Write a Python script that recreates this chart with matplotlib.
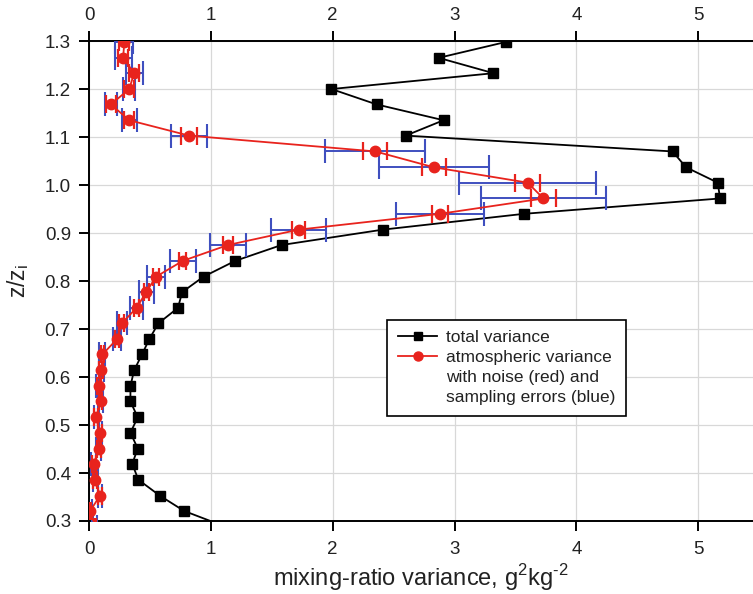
import numpy as np
import matplotlib.pyplot as plt
from matplotlib.lines import Line2D

plt.rcParams['font.family'] = ['Liberation Sans', 'DejaVu Sans']

# normalised height of each level
z = [1.298, 1.265, 1.233, 1.200, 1.168, 1.135, 1.103, 1.070, 1.037, 1.005,
     0.972, 0.940, 0.907, 0.875, 0.842, 0.809, 0.777, 0.744, 0.712, 0.679,
     0.647, 0.614, 0.581, 0.549, 0.516, 0.484, 0.451, 0.419, 0.386, 0.353,
     0.321, 0.288]

total_var = [3.42, 2.87, 3.32, 1.99, 2.36, 2.91, 2.60, 4.79, 4.90, 5.16,
             5.18, 3.57, 2.41, 1.58, 1.20, 0.94, 0.765, 0.73, 0.57, 0.495,
             0.435, 0.37, 0.34, 0.34, 0.40, 0.34, 0.40, 0.355, 0.405, 0.58,
             0.78, 1.12]

atm_var = [0.29, 0.28, 0.37, 0.33, 0.18, 0.33, 0.82, 2.35, 2.83, 3.60,
           3.73, 2.88, 1.72, 1.14, 0.77, 0.55, 0.47, 0.39, 0.27, 0.23,
           0.11, 0.10, 0.08, 0.095, 0.06, 0.09, 0.08, 0.04, 0.05, 0.09,
           0.01, 0.05]

# half-widths of the error bars
sampling_err = [0.075, 0.07, 0.07, 0.05, 0.05, 0.06, 0.15, 0.41, 0.45, 0.565,
                0.51, 0.36, 0.225, 0.15, 0.105, 0.075, 0.06, 0.05, 0.04, 0.035,
                0.025, 0.02, 0.02, 0.02, 0.02, 0.02, 0.02, 0.02, 0.02, 0.02,
                0.015, 0.015]
noise_err = [0.04, 0.04, 0.04, 0.04, 0.04, 0.04, 0.065, 0.10, 0.10, 0.10,
             0.10, 0.065, 0.05, 0.04, 0.03, 0.025, 0.02, 0.02, 0.02, 0.02,
             0.015, 0.015, 0.015, 0.015, 0.015, 0.015, 0.015, 0.015, 0.015, 0.015,
             0.01, 0.01]

xticks = [0, 1, 2, 3, 4, 5]

RED = '#e8231d'
BLUE = '#3f4fbf'
TXT = '#222222'

fig = plt.figure(figsize=(7.53, 5.94), dpi=100)
ax = fig.add_axes([0.1182, 0.1229, 0.8818, 0.808])

ax.plot(total_var, z, color='black', lw=1.3, marker='s', ms=7, zorder=3)
ax.errorbar(atm_var, z, xerr=sampling_err, fmt='none', ecolor=BLUE,
            elinewidth=1.4, capsize=8.5, capthick=1.5, zorder=4)
ax.errorbar(atm_var, z, xerr=noise_err, fmt='none', ecolor=RED,
            elinewidth=0, capsize=6.5, capthick=1.6, zorder=5)
ax.plot(atm_var, z, color=RED, lw=1.3, marker='o', ms=7.5, zorder=6)

ax.set_xlim(0, 5.45)
ax.set_ylim(0.3, 1.3)
ax.set_xticks(xticks)
ax.set_yticks(np.arange(3, 14) / 10)
ax.yaxis.set_major_formatter(plt.FormatStrFormatter('%.1f'))
ax.grid(True, color='#d8d8d8', lw=0.9)
ax.set_axisbelow(True)

ax.spines['right'].set_visible(False)
for s in ['left', 'top', 'bottom']:
    ax.spines[s].set_linewidth(1.4)
ax.tick_params(direction='out', length=7, width=1.4, labelsize=13.5,
               labelcolor=TXT, top=True, labeltop=True)
ax.tick_params(axis='x', pad=5, labelbottom=False)
ax.tick_params(axis='y', pad=6)
# bottom labels sit further from the axis than the top ones
for v in xticks:
    ax.text(v, -0.06, f'{v:g}', transform=ax.get_xaxis_transform(),
            ha='center', va='center', fontsize=13.5, color=TXT)

ax.set_xlabel('mixing-ratio variance, g$^\\mathregular{2}$kg$^\\mathregular{\u20102}$',
              fontsize=17, color=TXT)
ax.xaxis.set_label_coords(0.5, -0.086)
ax.set_ylabel('z/z$_\\mathregular{i}$', fontsize=16.5, labelpad=10, color=TXT)

handles = [Line2D([], [], color='black', lw=1.3, marker='s', ms=5.5),
           Line2D([], [], color=RED, lw=1.3, marker='o', ms=6.5),
           Line2D([], [], alpha=0),
           Line2D([], [], alpha=0)]
labels = ['total variance', 'atmospheric variance',
          'with noise (red) and', 'sampling errors (blue)']
leg = ax.legend(handles, labels, loc='lower left', bbox_to_anchor=(0.449, 0.219),
                fontsize=12.5, frameon=True, fancybox=False, edgecolor='black',
                framealpha=1, handlelength=2.3, handletextpad=0.5,
                borderpad=0.6, borderaxespad=0, labelspacing=0.28)
leg.get_frame().set_linewidth(1.2)
for t in leg.get_texts():
    t.set_color(TXT)
leg.set_zorder(10)

fig.savefig('out.png', dpi=100)
